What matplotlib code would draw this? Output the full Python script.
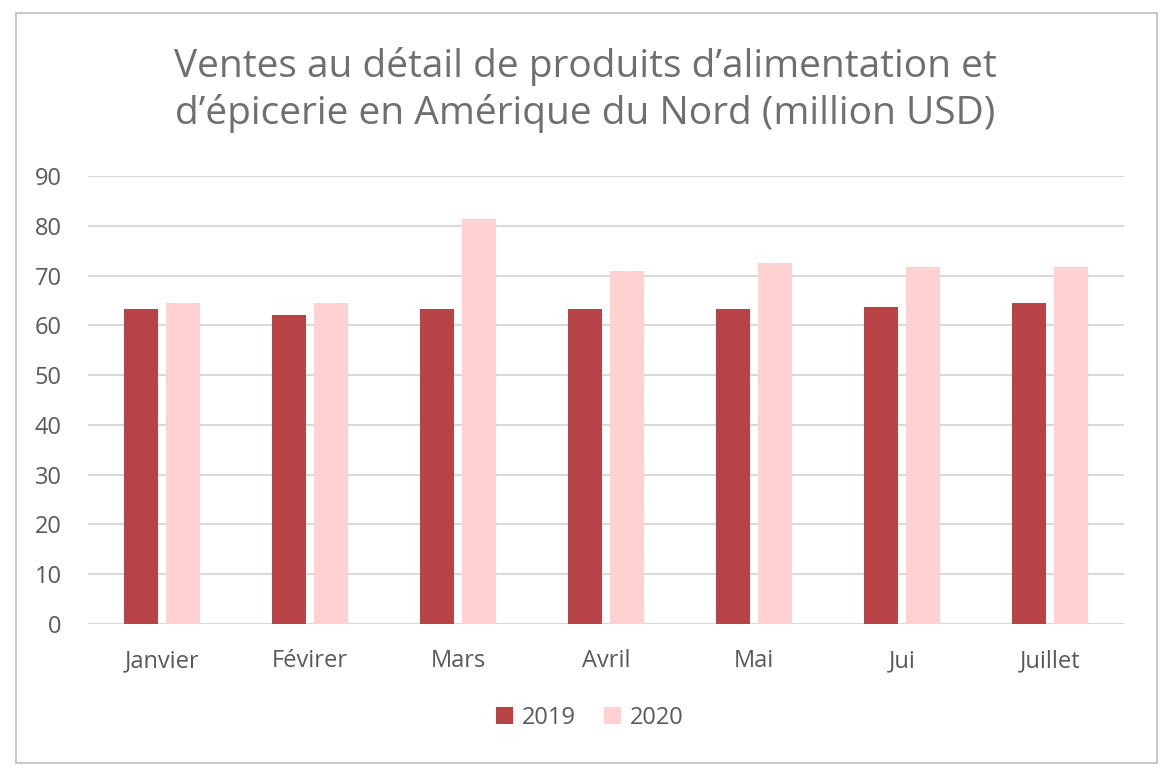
import numpy as np
import matplotlib.pyplot as plt
from matplotlib.patches import Rectangle

plt.rcParams['font.family'] = ['Open Sans', 'DejaVu Sans']

months = ['Janvier', 'Févirer', 'Mars', 'Avril', 'Mai', 'Jui', 'Juillet']
sales_2019 = [63.3, 62.1, 63.3, 63.3, 63.3, 63.7, 64.5]
sales_2020 = [64.5, 64.5, 81.3, 70.9, 72.5, 71.7, 71.7]

col_2019 = '#b84347'
col_2020 = '#ffd1d1'
txt = '#595959'

fig = plt.figure(figsize=(11.68, 7.76), dpi=100)
fig.patches.append(Rectangle((16/1168, 13/776), 1141/1168, 750/776, transform=fig.transFigure,
                             fill=False, edgecolor='#bfbfbf', lw=1.2))

ax = fig.add_axes([88/1168, 1 - 624/776, (1124 - 88)/1168, (624 - 176)/776])
x = np.arange(len(months))
w = 0.23
off = 0.142
ax.bar(x - off, sales_2019, w, color=col_2019, label='2019', zorder=3)
ax.bar(x + off, sales_2020, w, color=col_2020, label='2020', zorder=3)

ax.set_xlim(-0.5, len(months) - 0.5)
ax.set_ylim(0, 90)
ax.set_yticks(range(0, 91, 10))
ax.yaxis.grid(True, color='#d9d9d9', lw=1.5, zorder=0)
ax.set_axisbelow(True)
for s in ax.spines.values():
    s.set_visible(False)
ax.tick_params(axis='both', length=0, labelsize=17, labelcolor=txt)
ax.tick_params(axis='y', pad=19)
ax.tick_params(axis='x', pad=18)
ax.set_xticks(x)
ax.set_xticklabels(months)

fig.text(585/1168, 1 - 90/776, 'Ventes au détail de produits d’alimentation et\nd’épicerie en Amérique du Nord (million USD)',
         ha='center', va='center', fontsize=28, color='#6f6f6f', linespacing=1.28)

fig.legend(loc='center', bbox_to_anchor=(590/1168, 1 - 718/776), ncol=2, frameon=False,
           fontsize=17, labelcolor=txt, handlelength=0.7, handleheight=0.7,
           handletextpad=0.4, columnspacing=1.2)

fig.savefig('out.png', dpi=100)
